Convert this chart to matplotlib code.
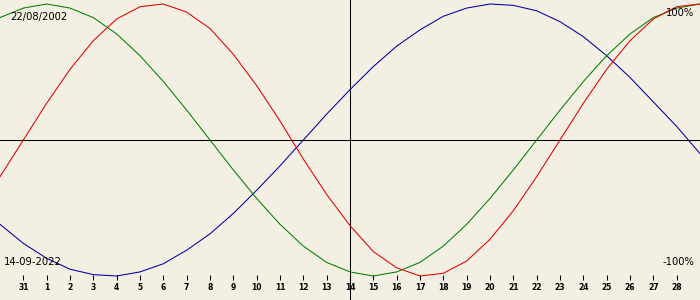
import matplotlib
matplotlib.use("Agg")
import matplotlib.pyplot as plt

# day labels under the chart (31 Aug .. 28 Sep), centre day is 14
day_labels = ["31"] + [str(d) for d in range(1, 29)]
day_index = list(range(-1, 30))  # one extra day each side reaches the edges

# biorhythm values, one per day (-1 .. 29)
physical = [-0.27, 0.0, 0.27, 0.52, 0.73, 0.89, 0.98, 1.0, 0.94, 0.82, 0.63,
            0.40, 0.14, -0.14, -0.40, -0.63, -0.82, -0.94, -1.0, -0.98, -0.89,
            -0.73, -0.52, -0.27, 0.0, 0.27, 0.52, 0.73, 0.89, 0.98, 1.0]
emotional = [0.90, 0.97, 1.0, 0.97, 0.90, 0.78, 0.62, 0.43, 0.22, 0.0, -0.22,
             -0.43, -0.62, -0.78, -0.90, -0.97, -1.0, -0.97, -0.90, -0.78,
             -0.62, -0.43, -0.22, 0.0, 0.22, 0.43, 0.62, 0.78, 0.90, 0.97, 1.0]
intellectual = [-0.62, -0.76, -0.87, -0.95, -0.99, -1.0, -0.97, -0.91, -0.81,
                -0.69, -0.54, -0.37, -0.19, 0.0, 0.19, 0.37, 0.54, 0.69, 0.81,
                0.91, 0.97, 1.0, 0.99, 0.95, 0.87, 0.76, 0.62, 0.46, 0.28,
                0.10, -0.10]

birth_text = "22/08/2002"
date_text = "14-09-2022"
centre_day = 14

bg = "#F3EFE3"
W, H = 700, 300

fig = plt.figure(figsize=(7, 3), dpi=100, facecolor=bg)
ax = fig.add_axes([0, 0, 1, 1], facecolor=bg)

# pixel y = 140 - 136 * value
ax.set_xlim(-1, 29)
ax.set_ylim(-160 / 136, 140 / 136)

lw = 0.75
ax.axhline(0, color="black", lw=lw)
ax.axvline(centre_day, color="black", lw=lw)

ax.plot(day_index, intellectual, color="#0000A0", lw=lw)
ax.plot(day_index, emotional, color="#008000", lw=lw)
ax.plot(day_index, physical, color="#E00000", lw=lw)

# tick row sits at pixel 275
for s in ["top", "left", "right"]:
    ax.spines[s].set_visible(False)
ax.spines["bottom"].set_position(("data", (140 - 275) / 136))
ax.spines["bottom"].set_visible(False)
ax.set_yticks([])
ax.set_xticks(range(len(day_labels)))
ax.set_xticklabels(day_labels, fontsize=5.5, fontweight="bold")
ax.tick_params(axis="x", direction="out", length=3.6, width=0.75,
               pad=2.5, colors="black")


def px(x, y):
    return x / W, 1 - y / H


fig.text(*px(10, 17), birth_text, fontsize=7.2, ha="left", va="center")
fig.text(*px(4, 262), date_text, fontsize=7.2, ha="left", va="center")
fig.text(*px(694, 13), "100%", fontsize=7.2, ha="right", va="center")
fig.text(*px(694, 262), "-100%", fontsize=7.2, ha="right", va="center")

fig.savefig("out.png", dpi=100, facecolor=bg)
